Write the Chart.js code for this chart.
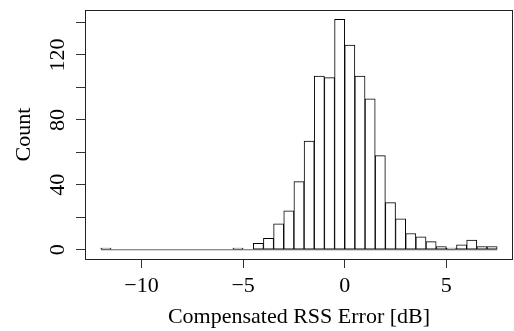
<!DOCTYPE html>
<html>
<head>
<meta charset="UTF-8">
<title>Compensated RSS Error</title>
<script src="https://cdn.jsdelivr.net/npm/chart.js"></script>
<style>
    html, body { margin: 0; padding: 0; background: #fff; }
    #wrap { width: 514px; height: 331px; position: relative; }
</style>
</head>
<body>
<div id="wrap"><canvas id="histChart"></canvas></div>
<script>
// histogram bins (0.5 dB wide), given by their centres
const binMids = [-11.75, -11.25, -10.75, -10.25, -9.75, -9.25, -8.75, -8.25, -7.75, -7.25,
                 -6.75, -6.25, -5.75, -5.25, -4.75, -4.25, -3.75, -3.25, -2.75, -2.25,
                 -1.75, -1.25, -0.75, -0.25, 0.25, 0.75, 1.25, 1.75, 2.25, 2.75,
                 3.25, 3.75, 4.25, 4.75, 5.25, 5.75, 6.25, 6.75, 7.25];
const counts = [1, 0, 0, 0, 0, 0, 0, 0, 0, 0,
                0, 0, 0, 1, 0, 4, 7, 16, 24, 42,
                67, 107, 106, 142, 126, 107, 93, 58, 29, 19,
                10, 8, 5, 2, 1, 3, 6, 2, 2];
const binWidth = 0.5;
const xTicks = [-10, -5, 0, 5];
const xTickLabels = ['\u221210', '\u22125', '0', '5'];
const yTicks = [0, 20, 40, 60, 80, 100, 120, 140];
const yTickLabels = ['0', '', '40', '', '80', '', '120', ''];

const serif = '"Liberation Serif", "DejaVu Serif", serif';

// R style range: data range padded by 4%
const xLo = binMids[0] - binWidth / 2;
const xHi = binMids[binMids.length - 1] + binWidth / 2;
const xPad = (xHi - xLo) * 0.04;
const yHi = Math.max(...counts);
const yPad = yHi * 0.04;

const histData = binMids.map((m, i) => ({ x: m, y: counts[i] }));

// draws the box around the plot region
const boxPlugin = {
    id: 'box',
    afterDraw(chart) {
        const a = chart.chartArea;
        const ctx = chart.ctx;
        ctx.save();
        ctx.strokeStyle = '#222';
        ctx.lineWidth = 1;
        ctx.strokeRect(Math.round(a.left) + 0.5, Math.round(a.top) + 0.5,
                       Math.round(a.right - a.left) - 1, Math.round(a.bottom - a.top));
        ctx.restore();
    }
};

new Chart(document.getElementById('histChart'), {
    type: 'bar',
    data: {
        datasets: [{
            type: 'line',
            data: [{ x: xLo, y: 0 }, { x: xHi, y: 0 }],
            borderColor: '#666',
            borderWidth: 1,
            pointRadius: 0,
            order: 2
        }, {
            data: histData,
            backgroundColor: '#ffffff',
            borderColor: '#000000',
            borderWidth: 1,
            borderSkipped: false,
            barPercentage: 1,
            categoryPercentage: 1,
            order: 1
        }]
    },
    plugins: [boxPlugin],
    options: {
        responsive: true,
        maintainAspectRatio: false,
        animation: false,
        layout: { padding: { top: 10, right: 1, left: 0, bottom: 0 } },
        plugins: {
            legend: { display: false },
            tooltip: { enabled: false }
        },
        scales: {
            x: {
                type: 'linear',
                offset: false,
                min: xLo - xPad,
                max: xHi + xPad,
                afterBuildTicks(scale) {
                    scale.ticks = xTicks.map(v => ({ value: v }));
                },
                afterFit(scale) {
                    scale.height = 72;
                    scale.paddingLeft = 0;
                    scale.paddingRight = 0;
                },
                ticks: {
                    color: '#000',
                    font: { family: serif, size: 22 },
                    padding: 5,
                    maxRotation: 0,
                    autoSkip: false,
                    callback: (v) => xTickLabels[xTicks.indexOf(v)]
                },
                grid: {
                    drawOnChartArea: false,
                    offset: false,
                    tickLength: 9,
                    color: '#333'
                },
                border: { display: false },
                title: {
                    display: true,
                    text: 'Compensated RSS Error [dB]',
                    color: '#000',
                    font: { family: serif, size: 22 },
                    padding: { top: 0, bottom: 1 }
                }
            },
            y: {
                min: -yPad,
                max: yHi + yPad,
                afterBuildTicks(scale) {
                    scale.ticks = yTicks.map(v => ({ value: v }));
                },
                afterFit(scale) {
                    scale.width = 85;
                    scale.paddingTop = 0;
                    scale.paddingBottom = 0;
                },
                ticks: {
                    color: '#000',
                    font: { family: serif, size: 22 },
                    minRotation: 90,
                    maxRotation: 90,
                    crossAlign: 'center',
                    padding: 1,
                    autoSkip: false,
                    callback: (v) => yTickLabels[yTicks.indexOf(v)]
                },
                grid: {
                    drawOnChartArea: false,
                    tickLength: 9,
                    color: '#333'
                },
                border: { display: false },
                title: {
                    display: true,
                    text: 'Count',
                    color: '#000',
                    font: { family: serif, size: 22 },
                    padding: { top: 11, bottom: 0 }
                }
            }
        }
    }
});
</script>
</body>
</html>
